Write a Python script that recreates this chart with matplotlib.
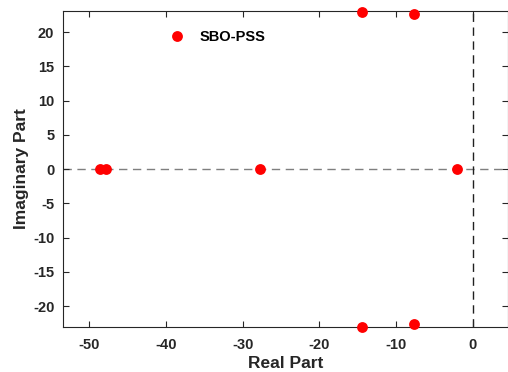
import matplotlib
matplotlib.use('Agg')
import matplotlib.pyplot as plt

plt.rcParams['font.family'] = ['Liberation Sans', 'DejaVu Sans']
plt.rcParams['font.weight'] = 'bold'
plt.rcParams['axes.unicode_minus'] = False

# eigenvalues
real_part = [-48.6, -47.8, -27.8, -2.0, -14.4, -14.4, -7.7, -7.7]
imag_part = [0.0, 0.0, 0.0, 0.0, 23.0, -23.0, 22.65, -22.65]
series_name = 'SBO-PSS'

xticks = [-50, -40, -30, -20, -10, 0]
yticks = [-20, -15, -10, -5, 0, 5, 10, 15, 20]

fig = plt.figure(figsize=(5.08, 3.72), dpi=100)
ax = fig.add_axes([0.1234, 0.1218, 0.8766, 0.8487])

ax.axhline(0, color='#7f7f7f', linestyle=(0, (6, 4)), linewidth=1.0, zorder=1)
ax.axvline(0, color='#202020', linestyle=(0, (6, 4)), linewidth=1.0, zorder=1)
ax.plot(real_part, imag_part, 'o', color='#ff0000', markersize=7.8,
        markeredgewidth=0, label=series_name, zorder=3, clip_on=False)

ax.set_xlim(-53.47, 4.6)
ax.set_ylim(-23.0, 23.1)
ax.set_xticks(xticks)
ax.set_yticks(yticks)
ax.tick_params(direction='in', top=True, right=True, length=4, width=0.8,
               labelsize=10.5, colors='#262626')
ax.tick_params(axis='x', pad=8)
ax.tick_params(axis='y', pad=6)
for lab in ax.get_xticklabels() + ax.get_yticklabels():
    lab.set_fontweight('bold')
for s in ax.spines.values():
    s.set_color('#262626')
    s.set_linewidth(0.8)

ax.set_xlabel('Real Part', fontsize=12.5, fontweight='bold', color='#262626', labelpad=3)
ax.set_ylabel('Imaginary Part', fontsize=12.5, fontweight='bold', color='#262626', labelpad=3)

ax.legend(loc='upper left', bbox_to_anchor=(0.195, 0.982), frameon=False,
          handletextpad=0.5, prop={'weight': 'bold', 'size': 10.5})

fig.savefig('out.png', dpi=100)
